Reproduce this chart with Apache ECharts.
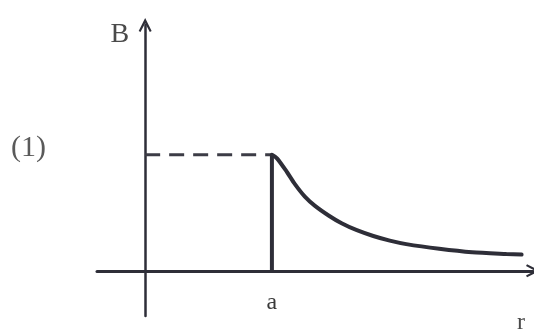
<!DOCTYPE html>
<html lang="en">

<head>
	<meta charset="UTF-8">
	<title>B_r</title>
	<script type="text/javascript" src="https://cdn.jsdelivr.net/npm/echarts@6/dist/echarts.min.js"></script>
</head>

<body style="margin:0;background:#FFF;">
	<div id="chart" style="height:329px;width:534px;"></div>
</body>
<script type="text/javascript">
	// 曲线读数 r 以 a 为单位, B 以 B0 为单位
	let rValues = [1, 1.04, 1.12, 1.18, 1.26, 1.34, 1.45, 1.55, 1.67, 1.8, 1.93, 2.06, 2.32, 2.58, 2.85, 2.97];
	let bValues = [1, 0.97, 0.85, 0.75, 0.64, 0.56, 0.475, 0.41, 0.35, 0.3, 0.26, 0.23, 0.19, 0.16, 0.145, 0.14];
	// r < a 的虚线, r = a 的竖线
	let dashR = [0, 1];
	let dashB = [1, 1];
	let wallR = [1, 1];
	let wallB = [0, 1];
	let wallLabels = ['a', ''];

	function pairs(xs, ys) {
		return xs.map(function (x, i) { return [x, ys[i]]; });
	}

	// 开口箭头
	let arrow = 'path://M0,10 L5,0 L10,10 L8.6,10.8 L5,4 L1.4,10.8 Z';
	let ink = '#2e2e38';
	let serif = '"Liberation Serif", "DejaVu Serif", serif';

	let myChart = echarts.init(document.getElementById('chart'));
	let option = {
		animation: false,
		backgroundColor: '#FFF',
		title: {
			text: '(1)',
			left: 6,
			top: 128,
			textStyle: { fontFamily: serif, fontSize: 30, fontWeight: 'normal', color: '#5a5a5a' }
		},
		grid: { left: 97, right: 1, top: 25, bottom: 13, outerBoundsMode: 'none' },
		xAxis: {
			type: 'value',
			min: -0.38,
			max: 3.06,
			name: 'r',
			nameLocation: 'end',
			nameGap: -12,
			nameTextStyle: { fontFamily: serif, fontSize: 24, color: '#4a4a4a', align: 'center', verticalAlign: 'top', padding: [40, 0, 0, 0] },
			axisLine: { lineStyle: { color: ink, width: 3 }, symbol: ['none', arrow], symbolSize: [14, 14] },
			axisTick: { show: false },
			axisLabel: { show: false },
			splitLine: { show: false }
		},
		yAxis: {
			type: 'value',
			min: -0.39,
			max: 2.12,
			name: 'B',
			nameLocation: 'end',
			nameGap: -10,
			nameTextStyle: { fontFamily: serif, fontSize: 28, color: '#4a4a4a', align: 'right', verticalAlign: 'middle', padding: [0, 16, 0, 0] },
			axisLine: { lineStyle: { color: ink, width: 2.5 }, symbol: ['none', arrow], symbolSize: [16, 14] },
			axisTick: { show: false },
			axisLabel: { show: false },
			splitLine: { show: false }
		},
		series: [
			{
				type: 'line',
				data: pairs(dashR, dashB),
				showSymbol: false,
				lineStyle: { color: '#3c3c46', width: 3, type: [15, 9] }
			},
			{
				type: 'line',
				data: pairs(wallR, wallB),
				symbol: 'circle',
				symbolSize: 0.1,
				showSymbol: true,
				lineStyle: { color: ink, width: 4 },
				label: {
					show: true,
					position: 'bottom',
					distance: 20,
					fontFamily: serif,
					fontSize: 24,
					color: '#3a3a3a',
					formatter: function (p) { return wallLabels[p.dataIndex]; }
				}
			},
			{
				type: 'line',
				data: pairs(rValues, bValues),
				showSymbol: false,
				smooth: 0.25,
				lineStyle: { color: ink, width: 4, cap: 'round' }
			}
		]
	};
	myChart.setOption(option);
</script>

</html>
